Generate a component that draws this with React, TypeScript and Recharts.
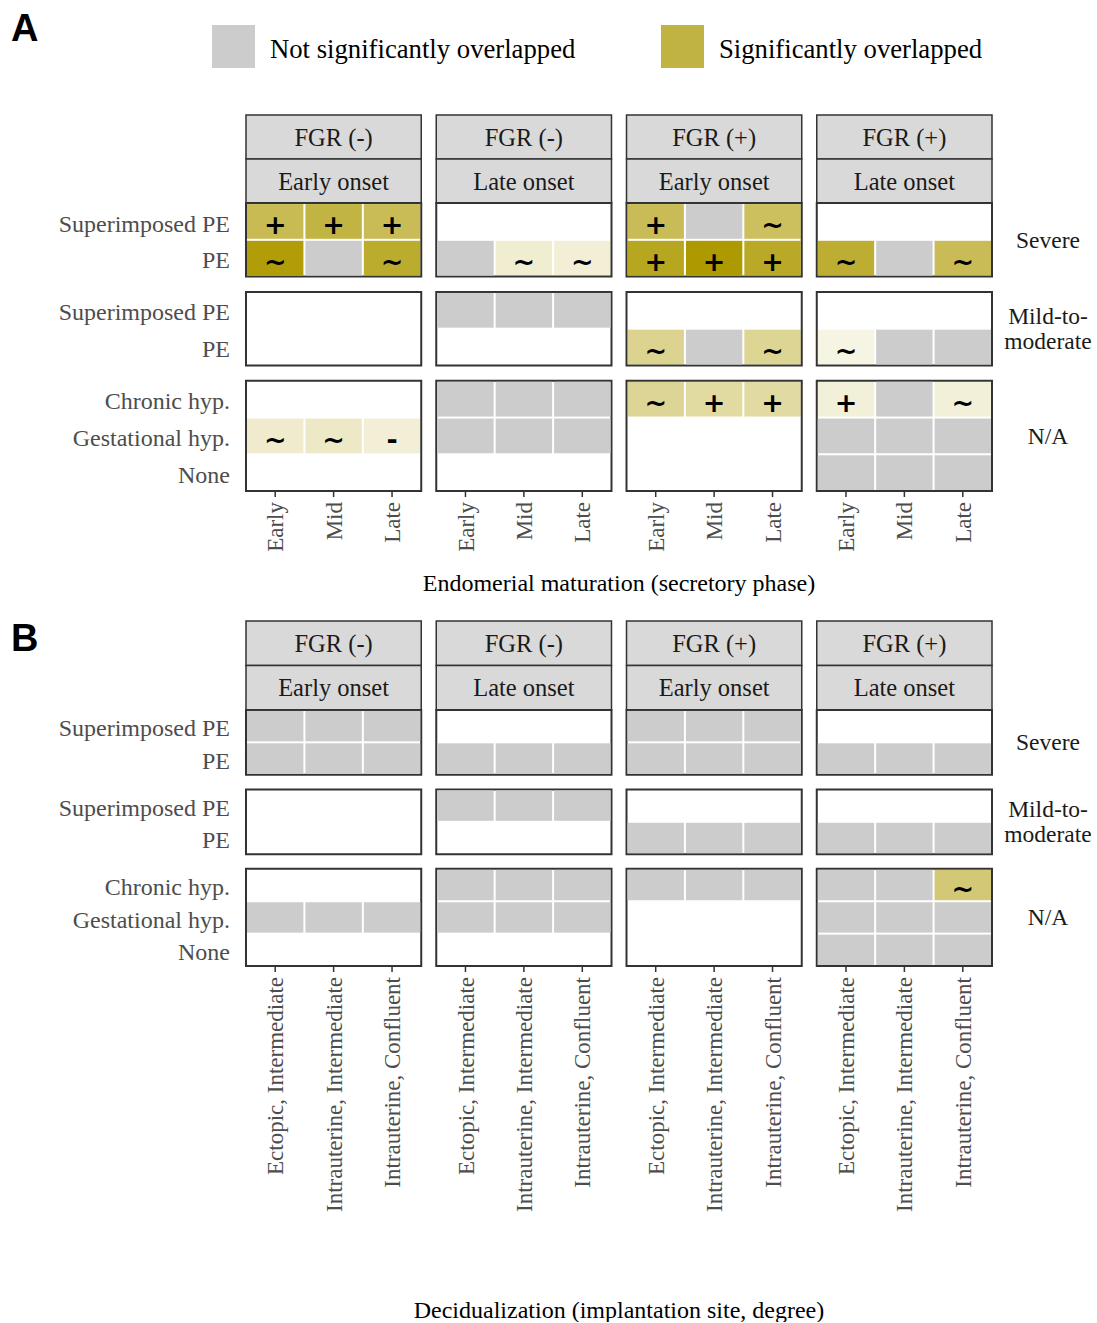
import React from "react";
import { ScatterChart, Scatter, XAxis, YAxis, ReferenceArea } from "recharts";

// facet strips
const fgrLabels = ["FGR (-)", "FGR (-)", "FGR (+)", "FGR (+)"];
const onsetLabels = ["Early onset", "Late onset", "Early onset", "Late onset"];
const severityLabels = ["Severe", "Mild-to-\nmoderate", "N/A"];
const severityRows = [
  ["Superimposed PE", "PE"],
  ["Superimposed PE", "PE"],
  ["Chronic hyp.", "Gestational hyp.", "None"],
];

// x tick labels
const maturationTicks = ["Early", "Mid", "Late"];
const decidualTicks = ["Ectopic, Intermediate", "Intrauterine, Intermediate", "Intrauterine, Confluent"];

const legendItems = [
  { label: "Not significantly overlapped", color: "#CCCCCC" },
  { label: "Significantly overlapped", color: "#C0B341" },
];

// cell codes: "." no tile, "n" not significant, "+" "~" "-" significant
// 12 cells per row = 4 facets x 3 columns
const matSevereSign = [
  ["+", "+", "+", ".", ".", ".", "+", "n", "~", ".", ".", "."],
  ["~", "n", "~", "n", "~", "~", "+", "+", "+", "~", "n", "~"],
];
const matSevereAlpha = [
  [0.67, 0.74, 0.66, 0, 0, 0, 0.66, 0, 0.63, 0, 0, 0],
  [0.97, 0, 0.82, 0, 0.18, 0.16, 0.88, 1.0, 0.85, 0.8, 0, 0.66],
];
const matMildSign = [
  [".", ".", ".", "n", "n", "n", ".", ".", ".", ".", ".", "."],
  [".", ".", ".", ".", ".", ".", "~", "n", "~", "~", "n", "n"],
];
const matMildAlpha = [
  [0, 0, 0, 0, 0, 0, 0, 0, 0, 0, 0, 0],
  [0, 0, 0, 0, 0, 0, 0.43, 0, 0.42, 0.11, 0, 0],
];
const matNASign = [
  [".", ".", ".", "n", "n", "n", "~", "+", "+", "+", "n", "~"],
  ["~", "~", "-", "n", "n", "n", ".", ".", ".", "n", "n", "n"],
  [".", ".", ".", ".", ".", ".", ".", ".", ".", "n", "n", "n"],
];
const matNAAlpha = [
  [0, 0, 0, 0, 0, 0, 0.41, 0.37, 0.36, 0.15, 0, 0.15],
  [0.2, 0.22, 0.16, 0, 0, 0, 0, 0, 0, 0, 0, 0],
  [0, 0, 0, 0, 0, 0, 0, 0, 0, 0, 0, 0],
];

const decSevereSign = [
  ["n", "n", "n", ".", ".", ".", "n", "n", "n", ".", ".", "."],
  ["n", "n", "n", "n", "n", "n", "n", "n", "n", "n", "n", "n"],
];
const decMildSign = [
  [".", ".", ".", "n", "n", "n", ".", ".", ".", ".", ".", "."],
  [".", ".", ".", ".", ".", ".", "n", "n", "n", "n", "n", "n"],
];
const decNASign = [
  [".", ".", ".", "n", "n", "n", "n", "n", "n", "n", "n", "~"],
  ["n", "n", "n", "n", "n", "n", ".", ".", ".", "n", "n", "n"],
  [".", ".", ".", ".", ".", ".", ".", ".", ".", "n", "n", "n"],
];
const decNAAlpha = [
  [0, 0, 0, 0, 0, 0, 0, 0, 0, 0, 0, 0.54],
  [0, 0, 0, 0, 0, 0, 0, 0, 0, 0, 0, 0],
  [0, 0, 0, 0, 0, 0, 0, 0, 0, 0, 0, 0],
];
const zeros2 = [
  [0, 0, 0, 0, 0, 0, 0, 0, 0, 0, 0, 0],
  [0, 0, 0, 0, 0, 0, 0, 0, 0, 0, 0, 0],
];

const SERIF = "Liberation Serif, Times New Roman, serif";
const OLIVE = "#AD9A00";
const NS_GREY = "#CCCCCC";
const STRIP_FILL = "#D9D9D9";
const BORDER = "#333333";
const FACETS = 4;
const COLS = 3;
const FACET_GAP = 0.257;
const W = 1097;
const LEFT_W = 246;
const RIGHT_W = 105;
const PLOT_W = W - LEFT_W - RIGHT_W;

type Props = {
  signs: string[][][];
  alphas: number[][][];
  xLabels: string[];
  xTitle: string;
  top: number;
  cellPx: number;
  stripPx: number;
  gapPx: number;
  axisH: number;
  titleOffset: number;
};

function Section(props: Props) {
  const { signs, alphas, xLabels, xTitle, top, cellPx, stripPx, gapPx, axisH, titleOffset } = props;
  const strip = stripPx / cellPx;
  const gap = gapPx / cellPx;

  const groupStart: number[] = [];
  let acc = 2 * strip;
  severityRows.forEach((rows) => {
    groupStart.push(acc);
    acc += rows.length + gap;
  });
  const yMax = acc - gap;
  const chartH = Math.round(top + yMax * cellPx + axisH);
  const pxY = (chartH - top - axisH) / yMax;
  const xMax = FACETS * COLS + (FACETS - 1) * FACET_GAP;
  const pxX = PLOT_W / xMax;
  const facetX = (c: number) => c * (COLS + FACET_GAP);

  const cells: any[] = [];
  signs.forEach((group, g) =>
    group.forEach((row, r) =>
      row.forEach((s, k) => {
        if (s === ".") return;
        const c = Math.floor(k / COLS);
        const j = k % COLS;
        cells.push({ x: facetX(c) + j + 0.5, y: groupStart[g] + r + 0.5, sign: s, alpha: alphas[g][r][k] });
      })
    )
  );

  const xTicks: number[] = [];
  const xTickText: Record<string, string> = {};
  for (let c = 0; c < FACETS; c++) {
    for (let j = 0; j < COLS; j++) {
      const v = facetX(c) + j + 0.5;
      xTicks.push(v);
      xTickText[v.toFixed(3)] = xLabels[j];
    }
  }

  const yTicks: number[] = [];
  const yTickText: Record<string, string> = {};
  severityRows.forEach((rows, g) =>
    rows.forEach((name, r) => {
      const v = groupStart[g] + r + 0.5;
      yTicks.push(v);
      yTickText[v.toFixed(3)] = name;
    })
  );

  const rTicks: number[] = [];
  const rTickText: Record<string, string> = {};
  severityRows.forEach((rows, g) => {
    const v = groupStart[g] + rows.length / 2;
    rTicks.push(v);
    rTickText[v.toFixed(3)] = severityLabels[g];
  });

  const tile = (p: any) => {
    const { cx, cy, payload } = p;
    const sig = payload.sign !== "n";
    return (
      <g>
        <rect
          x={cx - pxX / 2 + 1}
          y={cy - pxY / 2 + 1}
          width={pxX - 2}
          height={pxY - 2}
          fill={sig ? OLIVE : NS_GREY}
          fillOpacity={sig ? payload.alpha : 1}
        />
        {sig && (
          <text x={cx} y={cy + 13} textAnchor="middle" fontFamily="DejaVu Sans" fontWeight="bold" fontSize={27} fill="#000">
            {payload.sign}
          </text>
        )}
      </g>
    );
  };

  const xTick = (p: any) => (
    <text
      x={p.x}
      y={p.y}
      transform={`rotate(-90 ${p.x} ${p.y})`}
      textAnchor="end"
      dy="0.35em"
      fontFamily={SERIF}
      fontSize={23}
      fill="#4D4D4D"
    >
      {xTickText[Number(p.payload.value).toFixed(3)]}
    </text>
  );

  const leftTick = (p: any) => (
    <text x={p.x} y={p.y} textAnchor="end" dy="0.42em" fontFamily={SERIF} fontSize={24} fill="#4D4D4D">
      {yTickText[Number(p.payload.value).toFixed(3)]}
    </text>
  );

  const rightTick = (p: any) => {
    const lines = (rTickText[Number(p.payload.value).toFixed(3)] || "").split("\n");
    return (
      <text x={p.x + 56} y={p.y} textAnchor="middle" fontFamily={SERIF} fontSize={23.5} fill="#1A1A1A">
        {lines.map((l, i) => (
          <tspan key={i} x={p.x + 56} dy={i === 0 ? 8 - ((lines.length - 1) * 25) / 2 : 25}>
            {l}
          </tspan>
        ))}
      </text>
    );
  };

  return (
    <ScatterChart width={W} height={chartH} margin={{ top, right: 0, bottom: 0, left: 0 }}>
      <XAxis
        type="number"
        dataKey="x"
        domain={[0, xMax]}
        ticks={xTicks}
        interval={0}
        allowDataOverflow
        axisLine={false}
        tickSize={6}
        tickMargin={5}
        tickLine={{ stroke: BORDER, strokeWidth: 1.5 }}
        tick={xTick}
        height={axisH}
        label={{ value: xTitle, position: "insideBottom", offset: titleOffset, fill: "#000", fontSize: 24, fontFamily: SERIF }}
      />
      <YAxis
        yAxisId="l"
        type="number"
        dataKey="y"
        domain={[0, yMax]}
        reversed
        ticks={yTicks}
        interval={0}
        allowDataOverflow
        axisLine={false}
        tickLine={false}
        tickSize={0}
        tickMargin={16}
        tick={leftTick}
        width={LEFT_W}
      />
      <YAxis
        yAxisId="r"
        orientation="right"
        type="number"
        domain={[0, yMax]}
        reversed
        ticks={rTicks}
        interval={0}
        allowDataOverflow
        axisLine={false}
        tickLine={false}
        tickSize={0}
        tickMargin={0}
        tick={rightTick}
        width={RIGHT_W}
      />
      <Scatter yAxisId="l" data={cells} shape={tile} isAnimationActive={false} />
      {fgrLabels.map((lab, c) => (
        <ReferenceArea
          key={"s1" + c}
          yAxisId="l"
          x1={facetX(c)}
          x2={facetX(c) + COLS}
          y1={0}
          y2={strip}
          fill={STRIP_FILL}
          fillOpacity={1}
          stroke={BORDER}
          strokeWidth={1.5}
          label={{ value: lab, position: "center", fill: "#1A1A1A", fontSize: 24.5, fontFamily: SERIF }}
        />
      ))}
      {onsetLabels.map((lab, c) => (
        <ReferenceArea
          key={"s2" + c}
          yAxisId="l"
          x1={facetX(c)}
          x2={facetX(c) + COLS}
          y1={strip}
          y2={2 * strip}
          fill={STRIP_FILL}
          fillOpacity={1}
          stroke={BORDER}
          strokeWidth={1.5}
          label={{ value: lab, position: "center", fill: "#1A1A1A", fontSize: 24.5, fontFamily: SERIF }}
        />
      ))}
      {fgrLabels.map((_, c) =>
        severityRows.map((rows, g) => (
          <ReferenceArea
            key={"p" + c + "-" + g}
            yAxisId="l"
            x1={facetX(c)}
            x2={facetX(c) + COLS}
            y1={groupStart[g]}
            y2={groupStart[g] + rows.length}
            fill="none"
            stroke={BORDER}
            strokeWidth={2}
          />
        ))
      )}
    </ScatterChart>
  );
}

function FillLegend() {
  return (
    <svg width={W} height={95} style={{ position: "absolute", left: 0, top: 0 }}>
      {legendItems.map((it, i) => {
        const x0 = i === 0 ? 212 : 661;
        return (
          <g key={it.label}>
            <rect x={x0} y={25} width={43} height={43} fill={it.color} />
            <text x={x0 + 58} y={58} fontFamily={SERIF} fontSize={26.7} fill="#000">
              {it.label}
            </text>
          </g>
        );
      })}
    </svg>
  );
}

const panelLetter = (letter: string, top: number) => (
  <div
    style={{
      position: "absolute",
      left: 11,
      top,
      fontFamily: "Liberation Sans, Arial, sans-serif",
      fontWeight: "bold",
      fontSize: 38,
      lineHeight: "38px",
      color: "#000",
    }}
  >
    {letter}
  </div>
);

export default function App() {
  return (
    <div style={{ position: "absolute", left: 0, top: 0, width: W, height: 1322, background: "#fff", overflow: "hidden" }}>
      <div style={{ position: "absolute", left: 0, top: 0 }}>
        <Section
          signs={[matSevereSign, matMildSign, matNASign]}
          alphas={[matSevereAlpha, matMildAlpha, matNAAlpha]}
          xLabels={maturationTicks}
          xTitle="Endomerial maturation (secretory phase)"
          top={115}
          cellPx={36.7}
          stripPx={44}
          gapPx={15.4}
          axisH={110}
          titleOffset={10}
        />
      </div>
      <div style={{ position: "absolute", left: 0, top: 601 }}>
        <Section
          signs={[decSevereSign, decMildSign, decNASign]}
          alphas={[zeros2, zeros2, decNAAlpha]}
          xLabels={decidualTicks}
          xTitle="Decidualization (implantation site, degree)"
          top={20}
          cellPx={32.4}
          stripPx={44.5}
          gapPx={14.7}
          axisH={356}
          titleOffset={4}
        />
      </div>
      <FillLegend />
      {panelLetter("A", 9)}
      {panelLetter("B", 619)}
    </div>
  );
}
